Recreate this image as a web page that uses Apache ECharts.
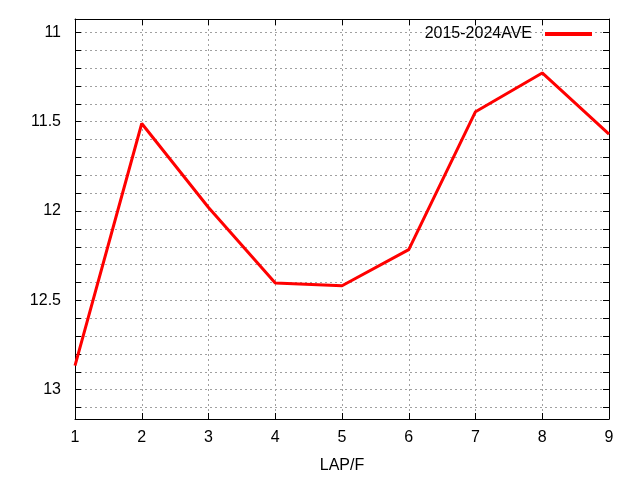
<!DOCTYPE html>
<html><head><meta charset="utf-8">
<script src="https://cdn.jsdelivr.net/npm/echarts@6/dist/echarts.min.js"></script>
<style>html,body{margin:0;padding:0;background:#fff}#c{width:640px;height:480px}</style>
</head><body><div id="c"></div>
<script>
const laps = [1, 2, 3, 4, 5, 6, 7, 8, 9];
const ave = [12.865, 11.51, 11.98, 12.403, 12.418, 12.216, 11.444, 11.227, 11.569];
const seriesName = '2015-2024AVE';
const yLabelValues = [11, 11.5, 12, 12.5, 13];
const yTickValues = [11, 11.1, 11.2, 11.3, 11.4, 11.5, 11.6, 11.7, 11.8, 11.9, 12, 12.1, 12.2, 12.3, 12.4, 12.5, 12.6, 12.7, 12.8, 12.9, 13, 13.1];
const xMin = 1, xMax = 9;
const yMin = 10.925, yMax = 13.164;

const font = 'Liberation Sans, Arial, sans-serif';
const gridLine = {show: true, lineStyle: {color: '#a0a0a0', type: [2, 3], width: 1}};
const axLine = {show: true, onZero: false, lineStyle: {color: '#000', width: 1}};
const tick = {show: true, inside: true, length: 6, lineStyle: {color: '#000'}};

const chart = echarts.init(document.getElementById('c'), null, {renderer: 'canvas'});
chart.setOption({
  animation: false,
  backgroundColor: '#fff',
  textStyle: {fontFamily: font},
  grid: {left: 75, right: 31, top: 19, bottom: 61, containLabel: false},
  legend: {
    show: true, right: 43, top: 21, align: 'right', orient: 'vertical',
    icon: 'rect', itemWidth: 47, itemHeight: 4, z: 10,
    textStyle: {fontSize: 16, color: '#000', fontFamily: font, padding: [0, 8, 0, 0]},
    data: [seriesName]
  },
  xAxis: [
    {type: 'value', min: xMin, max: xMax, interval: 1, position: 'bottom',
     name: 'LAP/F', nameLocation: 'middle', nameGap: 39,
     nameTextStyle: {fontSize: 16, color: '#000', fontFamily: font},
     axisLine: axLine, axisTick: tick,
     axisLabel: {fontSize: 16, color: '#000', margin: 11, fontFamily: font},
     splitLine: gridLine},
    {type: 'value', min: xMin, max: xMax, interval: 1, position: 'top',
     axisLine: axLine, axisTick: tick, axisLabel: {show: false}, splitLine: {show: false}}
  ],
  yAxis: [
    {type: 'value', inverse: true, min: yMin, max: yMax, position: 'left',
     axisLine: axLine,
     axisTick: Object.assign({}, tick, {customValues: yTickValues}),
     axisLabel: {fontSize: 16, color: '#000', margin: 14, fontFamily: font, customValues: yLabelValues},
     splitLine: gridLine},
    {type: 'value', inverse: true, min: yMin, max: yMax, position: 'right',
     axisLine: axLine,
     axisTick: Object.assign({}, tick, {customValues: yTickValues}),
     axisLabel: {show: false}, splitLine: {show: false}}
  ],
  series: [{
    name: seriesName, type: 'line', xAxisIndex: 0, yAxisIndex: 0,
    data: laps.map((x, i) => [x, ave[i]]),
    showSymbol: false, symbol: 'none',
    lineStyle: {color: '#ff0000', width: 3},
    itemStyle: {color: '#ff0000'}
  }]
});
</script>
</body></html>
